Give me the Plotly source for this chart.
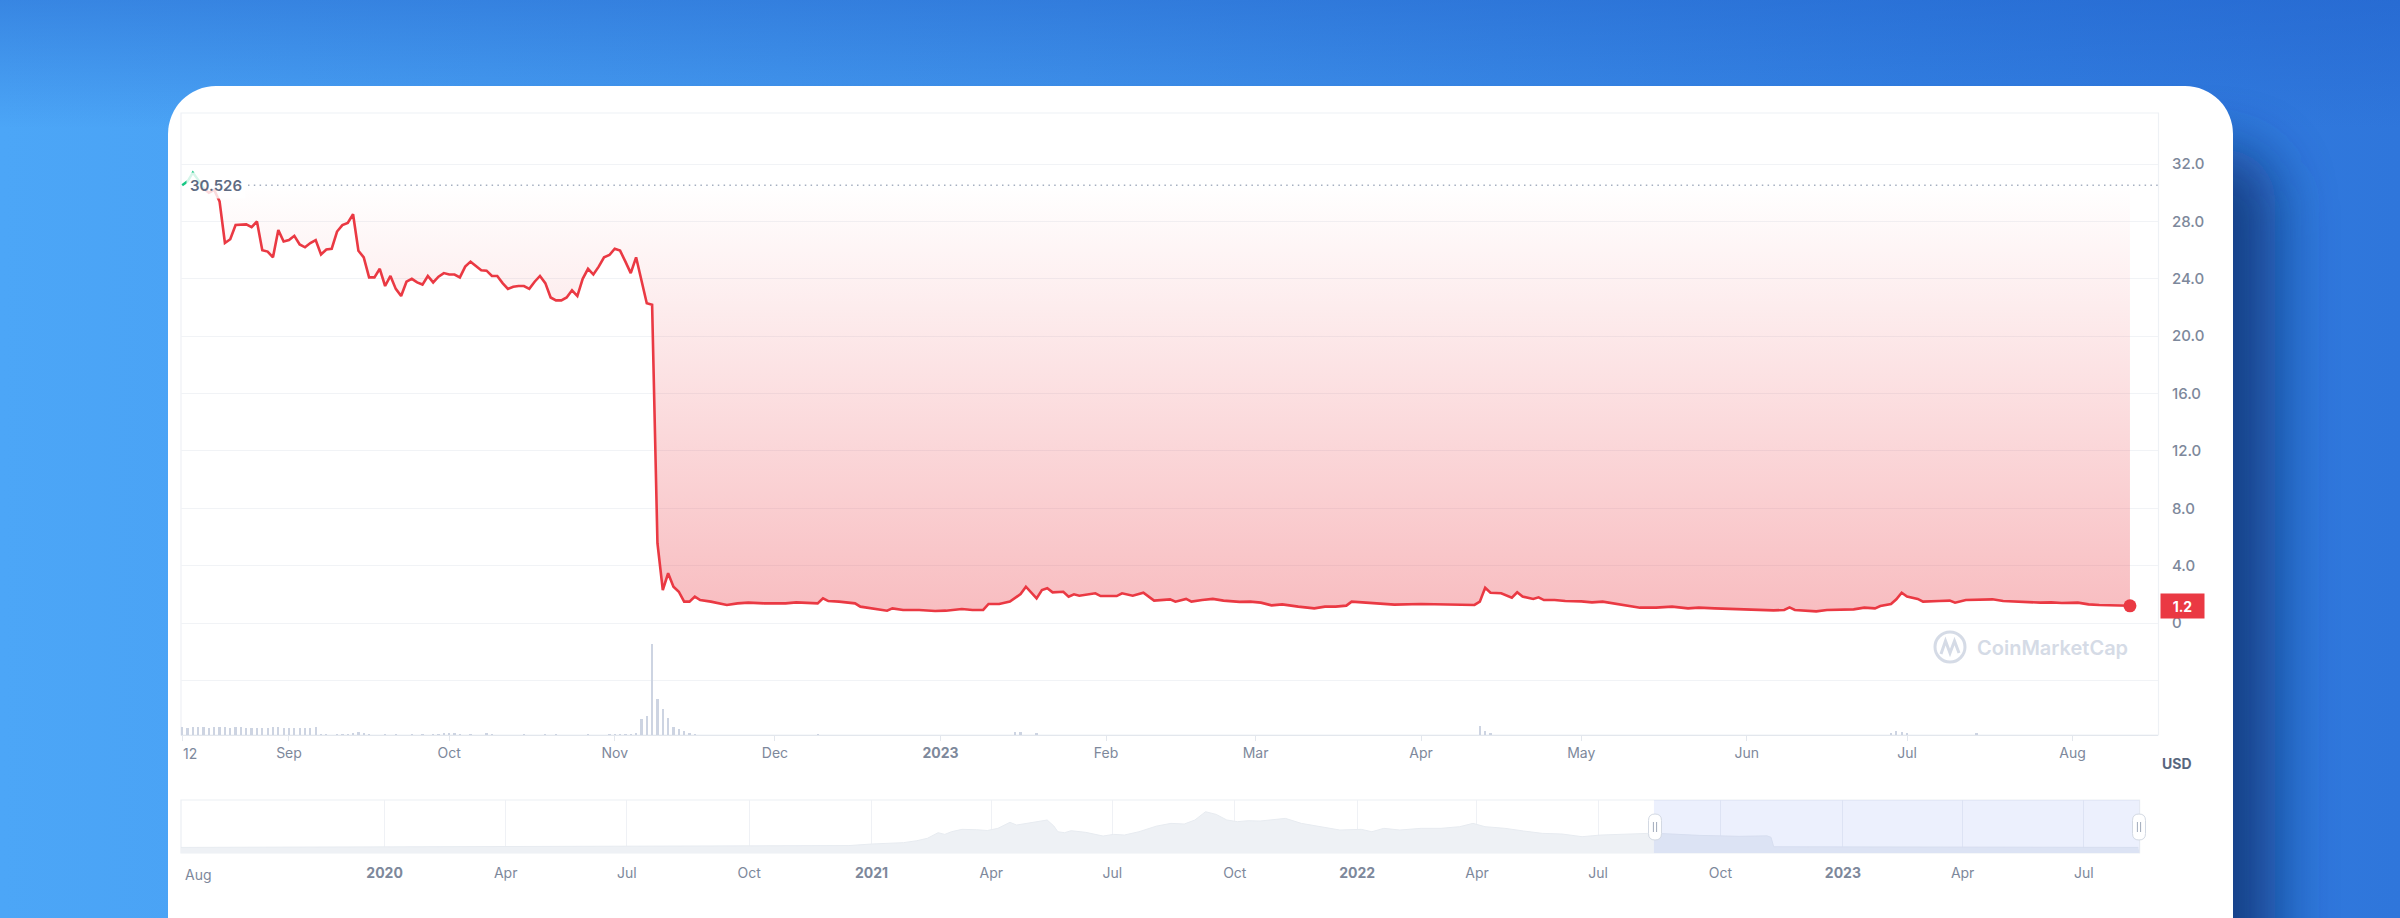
import base64
import pandas as pd
import plotly.graph_objects as go

W, H = 2400, 918

# ---------------- data ----------------
# daily closes, 2022-08-12 .. 2022-11-17
pre_start = "2022-08-12"
pre_values = [
    30.53, 30.8, 31.4, 30.9, 30.3, 30.0, 30.2, 29.4,
    26.5, 26.76, 27.75, 27.8, 27.8, 27.6, 28.0, 26.0, 25.9, 25.5, 27.4, 26.6,
    26.7, 27.0, 26.4, 26.2, 26.5, 26.7, 25.7, 26.05, 26.1, 27.3,
    27.75, 27.9, 28.5, 25.96, 25.5, 24.1, 24.1, 24.7, 23.5, 24.2,
    23.3, 22.8, 23.8, 24.0, 23.75, 23.6, 24.2, 23.75, 24.15, 24.4,
    24.3, 24.3, 24.1, 24.85, 25.2, 24.9, 24.6, 24.57, 24.2, 24.2,
    23.7, 23.3, 23.45, 23.5, 23.5, 23.3, 23.8, 24.2, 23.7, 22.7,
    22.5, 22.5, 22.7, 23.2, 22.8, 24.0, 24.7, 24.3, 24.85, 25.5,
    25.66, 26.1, 25.97, 25.2, 24.4, 25.5, 23.9, 22.3, 22.2, 5.56,
    2.3, 3.47, 2.53, 2.18, 1.49, 1.49, 1.84, 1.6,
]
post_dates = [
    "2022-11-19", "2022-11-22", "2022-11-24", "2022-11-26", "2022-11-29", "2022-12-03",
    "2022-12-05", "2022-12-09", "2022-12-10", "2022-12-11", "2022-12-13", "2022-12-16",
    "2022-12-17", "2022-12-20", "2022-12-22", "2022-12-23", "2022-12-25", "2022-12-28",
    "2022-12-31", "2023-01-02", "2023-01-05", "2023-01-07", "2023-01-09", "2023-01-10",
    "2023-01-12", "2023-01-14", "2023-01-16", "2023-01-17", "2023-01-19", "2023-01-20",
    "2023-01-21", "2023-01-22", "2023-01-24", "2023-01-25", "2023-01-26", "2023-01-27",
    "2023-01-29", "2023-01-30", "2023-01-31", "2023-02-03", "2023-02-04", "2023-02-06",
    "2023-02-08", "2023-02-10", "2023-02-13", "2023-02-14", "2023-02-16", "2023-02-17",
    "2023-02-19", "2023-02-21", "2023-02-23", "2023-02-26", "2023-02-28", "2023-03-02",
    "2023-03-04", "2023-03-06", "2023-03-09", "2023-03-12", "2023-03-14", "2023-03-16",
    "2023-03-18", "2023-03-19", "2023-03-21", "2023-03-24", "2023-03-27", "2023-04-01",
    "2023-04-05", "2023-04-11", "2023-04-12", "2023-04-13", "2023-04-14", "2023-04-16",
    "2023-04-18", "2023-04-19", "2023-04-20", "2023-04-22", "2023-04-23", "2023-04-24",
    "2023-04-26", "2023-04-28", "2023-05-01", "2023-05-03", "2023-05-05", "2023-05-07",
    "2023-05-09", "2023-05-12", "2023-05-15", "2023-05-18", "2023-05-21", "2023-05-23",
    "2023-05-26", "2023-05-30", "2023-06-01", "2023-06-04", "2023-06-06", "2023-06-08",
    "2023-06-09", "2023-06-10", "2023-06-12", "2023-06-14", "2023-06-16", "2023-06-19",
    "2023-06-21", "2023-06-23", "2023-06-25", "2023-06-26", "2023-06-28", "2023-06-29",
    "2023-06-30", "2023-07-01", "2023-07-03", "2023-07-04", "2023-07-05", "2023-07-07",
    "2023-07-09", "2023-07-10", "2023-07-12", "2023-07-14", "2023-07-17", "2023-07-19",
    "2023-07-21", "2023-07-23", "2023-07-26", "2023-07-28", "2023-07-30", "2023-08-02",
    "2023-08-04", "2023-08-06", "2023-08-09", "2023-08-11 18:00",
]
post_values = [
    1.49, 1.26, 1.37, 1.42, 1.37, 1.37,
    1.44, 1.37, 1.72, 1.53, 1.49, 1.37,
    1.14, 0.98, 0.86, 1.02, 0.91, 0.91,
    0.84, 0.86, 0.98, 0.91, 0.91, 1.33,
    1.33, 1.49, 2.02, 2.53, 1.72, 2.30,
    2.42, 2.14, 2.18, 1.84, 2.00, 1.90,
    2.00, 2.07, 1.88, 1.88, 2.07, 1.90,
    2.11, 1.56, 1.65, 1.49, 1.68, 1.49,
    1.60, 1.68, 1.56, 1.47, 1.49, 1.42,
    1.23, 1.30, 1.14, 1.02, 1.14, 1.14,
    1.21, 1.49, 1.44, 1.37, 1.28, 1.33,
    1.30, 1.26, 1.49, 2.46, 2.11, 2.07,
    1.77, 2.14, 1.84, 1.68, 1.79, 1.60,
    1.60, 1.53, 1.51, 1.44, 1.49, 1.37,
    1.26, 1.07, 1.07, 1.14, 1.02, 1.07,
    1.02, 0.98, 0.91, 0.93, 0.88, 0.91,
    1.09, 0.91, 0.84, 0.81, 0.91, 0.93,
    0.95, 1.07, 1.02, 1.18, 1.33, 1.65,
    2.11, 1.84, 1.68, 1.49, 1.49, 1.53,
    1.56, 1.42, 1.60, 1.60, 1.65, 1.53,
    1.49, 1.47, 1.42, 1.44, 1.40, 1.42,
    1.30, 1.26, 1.21, 1.20,
]
high_value = 30.526
last_value = 1.2

# daily volume (million USD), 2022-08-12 .. 2022-11-17
vol_pre = [
    40, 37.5, 42.5, 42.5, 42.5, 37.5, 42.5, 40, 42.5, 37.5, 42.5, 40, 35,
    37.5, 35, 37.5, 37.5, 40, 40, 37.5, 35, 35, 35, 35, 35, 40,
    2.5, 5, 0, 2.5, 5, 2.5, 10, 15, 7.5, 5, 0, 0, 2.5, 0, 5, 0, 0, 5, 0, 5,
    0, 2.5, 5, 7.5, 7.5, 7.5, 2.5, 0, 5, 0, 0, 10, 2.5, 0, 0, 0, 0, 0, 5, 0,
    0, 0, 5, 0, 5, 0, 0, 0, 0, 0, 5, 0, 0, 0, 5, 2.5, 5, 5, 5, 7.5,
    78.5, 95, 453.5, 178.5, 130, 83.5, 40, 30, 20, 10, 2.5, 0,
]
vol_post_dates = ["2022-12-09", "2023-01-15", "2023-01-16", "2023-01-19", "2023-04-12",
                  "2023-04-13", "2023-04-14", "2023-06-28", "2023-06-29", "2023-06-30",
                  "2023-07-01", "2023-07-14"]
vol_post_values = [5, 15, 15, 7.5, 45, 20, 10, 10, 20, 17.5, 10, 7.5]

# navigator (full history)
nav_dates = [
    "2019-08-01", "2019-10-01", "2020-01-01", "2020-04-01", "2020-07-01", "2020-10-01",
    "2020-12-15", "2021-01-01", "2021-01-25", "2021-02-04", "2021-02-12", "2021-02-20",
    "2021-02-25", "2021-03-02", "2021-03-10", "2021-03-21", "2021-03-29", "2021-04-06",
    "2021-04-15", "2021-04-20", "2021-04-27", "2021-05-05", "2021-05-13", "2021-05-18",
    "2021-05-21", "2021-05-26", "2021-05-31", "2021-06-11", "2021-06-24", "2021-07-02",
    "2021-07-10", "2021-07-21", "2021-08-03", "2021-08-14", "2021-08-24", "2021-09-01",
    "2021-09-09", "2021-09-17", "2021-09-25", "2021-10-03", "2021-10-11", "2021-10-20",
    "2021-11-08", "2021-11-20", "2021-12-04", "2021-12-19", "2022-01-04", "2022-01-12",
    "2022-01-21", "2022-02-02", "2022-02-18", "2022-03-05", "2022-03-19", "2022-03-29",
    "2022-04-07", "2022-04-22", "2022-05-06", "2022-05-20", "2022-06-04", "2022-06-19",
    "2022-07-03", "2022-07-18", "2022-08-06", "2022-08-12", "2022-09-15", "2022-10-15",
    "2022-11-05", "2022-11-08", "2022-11-10", "2023-01-17", "2023-04-13", "2023-08-11",
]
nav_values = [
    1.2, 1.5, 2.0, 2.5, 3.0, 4.0,
    5.0, 8.2, 11, 15, 20, 31.5,
    28, 33.5, 38.4, 37.6, 36, 40.5,
    52.8, 47.3, 50.7, 54.2, 57.6, 45.3,
    33.5, 31.5, 35.6, 32.2, 24.7, 28.1,
    26.7, 33.5, 45, 50.7, 49.4, 57.6,
    74.7, 69.2, 57.6, 54.2, 56.2, 55.5,
    61, 50.7, 43.9, 37, 38.4, 33.5,
    40.5, 37, 40.5, 40.5, 43.9, 50.7,
    43.9, 40.5, 35, 30.2, 28.8, 23.3,
    26.7, 28.1, 30.2, 30.5, 26, 24,
    25, 22, 2.5, 2.5, 2.5, 1.2,
]

main_tickvals = ["2022-08-12", "2022-09-01", "2022-10-01", "2022-11-01", "2022-12-01",
                 "2023-01-01", "2023-02-01", "2023-03-01", "2023-04-01", "2023-05-01",
                 "2023-06-01", "2023-07-01", "2023-08-01"]
main_ticktext = ["", "Sep", "Oct", "Nov", "Dec", "<b>2023</b>", "Feb", "Mar", "Apr",
                 "May", "Jun", "Jul", "Aug"]
y_tickvals = [-4, 0, 4, 8, 12, 16, 20, 24, 28, 32]
y_ticktext = ["", "0", "4.0", "8.0", "12.0", "16.0", "20.0", "24.0", "28.0", "32.0"]
nav_tickvals = ["2020-01-01", "2020-04-01", "2020-07-01", "2020-10-01", "2021-01-01",
                "2021-04-01", "2021-07-01", "2021-10-01", "2022-01-01", "2022-04-01",
                "2022-07-01", "2022-10-01", "2023-01-01", "2023-04-01", "2023-07-01"]
nav_ticktext = ["<b>2020</b>", "Apr", "Jul", "Oct", "<b>2021</b>", "Apr", "Jul", "Oct",
                "<b>2022</b>", "Apr", "Jul", "Oct", "<b>2023</b>", "Apr", "Jul"]

# ---------------- helpers ----------------
def px(x):
    return x / W


def py(y):
    return 1 - y / H


pre_dates = [d.strftime("%Y-%m-%d") for d in pd.date_range(pre_start, periods=len(pre_values))]
price_dates = pre_dates + post_dates
price_values = pre_values + post_values
vol_dates = [d.strftime("%Y-%m-%d") for d in pd.date_range(pre_start, periods=len(vol_pre))] + vol_post_dates
vol_values = vol_pre + vol_post_values

RED = "#ea3943"
GREEN = "#16c784"
FONT = "Inter"
TICK_GREY = "#7d889b"

# ---------------- background (blue page + white card) ----------------
svg = """<svg xmlns="http://www.w3.org/2000/svg" width="2400" height="918" viewBox="0 0 2400 918">
<defs>
<linearGradient id="g" x1="0" y1="0" x2="1" y2="0">
<stop offset="0" stop-color="#4ca6f7"/>
<stop offset="0.45" stop-color="#4194ec"/>
<stop offset="0.8" stop-color="#3380e2"/>
<stop offset="1" stop-color="#2f76db"/>
</linearGradient>
<linearGradient id="t" x1="0" y1="0" x2="0" y2="1">
<stop offset="0" stop-color="#1f5fc9" stop-opacity="0.45"/>
<stop offset="0.14" stop-color="#1f5fc9" stop-opacity="0"/>
</linearGradient>
<filter id="b" x="-20%" y="-20%" width="140%" height="140%"><feGaussianBlur stdDeviation="30"/></filter>
</defs>
<rect width="2400" height="918" fill="url(#g)"/>
<rect width="2400" height="918" fill="url(#t)"/>
<rect x="400" y="150" width="1875" height="950" rx="50" fill="#0a3070" opacity="0.8" filter="url(#b)"/>
<rect x="168" y="86" width="2065" height="950" rx="48" fill="#ffffff"/>
</svg>"""
bg_uri = "data:image/svg+xml;base64," + base64.b64encode(svg.encode()).decode()

fig = go.Figure()

# fill between baseline (period open) and the price line
fig.add_trace(go.Scatter(x=[price_dates[0], price_dates[-1]], y=[high_value, high_value],
                         mode="lines", line=dict(width=0), hoverinfo="skip"))
fig.add_trace(go.Scatter(
    x=price_dates, y=price_values, mode="lines", line=dict(width=0),
    fill="tonexty",
    fillgradient=dict(type="vertical", start=0, stop=high_value,
                      colorscale=[[0, "rgba(234,57,67,0.34)"], [1, "rgba(234,57,67,0.0)"]]),
    hoverinfo="skip"))
# green part (above open) and red line
fig.add_trace(go.Scatter(x=price_dates[:5], y=price_values[:5], mode="lines",
                         line=dict(color=GREEN, width=2.4)))
fig.add_trace(go.Scatter(x=price_dates[4:], y=price_values[4:], mode="lines",
                         line=dict(color=RED, width=2.6)))
fig.add_trace(go.Scatter(x=[price_dates[-1]], y=[price_values[-1]], mode="markers",
                         marker=dict(color=RED, size=13)))
# volume
fig.add_trace(go.Bar(x=vol_dates, y=vol_values, yaxis="y2", marker=dict(color="#cdd4e2", line=dict(width=0)),
                     width=0.42 * 86400000))
# navigator
fig.add_trace(go.Scatter(x=[nav_dates[0], "2023-08-12"], y=[-10.3, -10.3], xaxis="x3", yaxis="y3",
                         mode="lines", line=dict(width=0), hoverinfo="skip"))
fig.add_trace(go.Scatter(x=nav_dates, y=nav_values, xaxis="x3", yaxis="y3", mode="lines",
                         line=dict(color="#e7ebf0", width=1), fill="tonexty", fillcolor="#eef1f5"))

shapes = []
# main plot frame
shapes.append(dict(type="rect", xref="paper", yref="paper", x0=px(181), x1=px(2158.5), y0=py(735), y1=py(113),
                   line=dict(color="#eef1f5", width=1.2), layer="below"))
# dotted high line
shapes.append(dict(type="line", xref="paper", yref="y", x0=px(248), x1=px(2158), y0=high_value, y1=high_value,
                   line=dict(color="#a5afc0", width=1.3, dash="1.5px,4.3px")))
# navigator frame + selection
shapes.append(dict(type="rect", xref="paper", yref="paper", x0=px(181), x1=px(2139.6), y0=py(853), y1=py(800),
                   line=dict(color="#eceff3", width=1.2), layer="below"))
shapes.append(dict(type="rect", xref="x3", yref="paper", x0="2022-08-12", x1="2023-08-12",
                   y0=py(853), y1=py(800), fillcolor="rgba(70,110,235,0.10)", line=dict(width=0)))


def pill(cx, y0, y1, w=13, r=6.5):
    x0, x1 = cx - w / 2, cx + w / 2
    pts = (f"M{px(x0 + r)},{py(y0)} L{px(x1 - r)},{py(y0)} Q{px(x1)},{py(y0)} {px(x1)},{py(y0 + r)} "
           f"L{px(x1)},{py(y1 - r)} Q{px(x1)},{py(y1)} {px(x1 - r)},{py(y1)} "
           f"L{px(x0 + r)},{py(y1)} Q{px(x0)},{py(y1)} {px(x0)},{py(y1 - r)} "
           f"L{px(x0)},{py(y0 + r)} Q{px(x0)},{py(y0)} {px(x0 + r)},{py(y0)} Z")
    return pts


for cx in (1655, 2139):
    shapes.append(dict(type="path", xref="paper", yref="paper", path=pill(cx, 814, 840),
                       fillcolor="#ffffff", line=dict(color="#d3d9e3", width=1)))
    for dx in (-1.6, 1.6):
        shapes.append(dict(type="line", xref="paper", yref="paper", x0=px(cx + dx), x1=px(cx + dx),
                           y0=py(822), y1=py(832), line=dict(color="#a0aabb", width=1)))

# watermark logo
shapes.append(dict(type="circle", xref="paper", yref="paper", x0=px(1935), x1=px(1965), y0=py(662), y1=py(632),
                   line=dict(color="#d5dbe6", width=3)))
shapes.append(dict(type="path", xref="paper", yref="paper",
                   path=f"M{px(1941)},{py(654)} L{px(1945.5)},{py(641)} L{px(1950)},{py(653)} L{px(1954.5)},{py(641)} L{px(1959)},{py(653)}",
                   line=dict(color="#d5dbe6", width=3)))

annotations = [
    dict(xref="paper", yref="y", x=px(186), y=high_value, xanchor="left", yanchor="middle",
         text="30.526", showarrow=False, bgcolor="rgba(255,255,255,0.82)", borderpad=3,
         font=dict(family=FONT, size=15, color="#5e6b82", weight=600)),
    dict(xref="paper", yref="y", x=px(2160), y=last_value, xanchor="left", yanchor="middle",
         text="<b>1.2</b>", showarrow=False, bgcolor=RED, width=39, height=20, borderpad=2,
         font=dict(family=FONT, size=14, color="#ffffff")),
    dict(xref="paper", yref="paper", x=px(2177), y=py(763), xanchor="center", yanchor="middle",
         text="<b>USD</b>", showarrow=False, font=dict(family=FONT, size=14, color="#58667e")),
    dict(xref="paper", yref="paper", x=px(181), y=py(753), xanchor="left", yanchor="middle",
         text="12", showarrow=False, font=dict(family=FONT, size=14, color=TICK_GREY)),
    dict(xref="paper", yref="paper", x=px(183), y=py(874), xanchor="left", yanchor="middle",
         text="Aug", showarrow=False, font=dict(family=FONT, size=14, color=TICK_GREY)),
    dict(xref="paper", yref="paper", x=px(1975), y=py(648), xanchor="left", yanchor="middle",
         text="CoinMarketCap", showarrow=False, font=dict(family=FONT, size=20, color="#d5dbe6", weight=600)),
]

fig.update_layout(
    width=W, height=H, margin=dict(l=0, r=0, t=0, b=0),
    paper_bgcolor="#3a86e6", plot_bgcolor="rgba(0,0,0,0)",
    showlegend=False, hovermode=False, bargap=0,
    images=[dict(source=bg_uri, xref="paper", yref="paper", x=0, y=1, sizex=1, sizey=1,
                 xanchor="left", yanchor="top", sizing="stretch", layer="below")],
    xaxis=dict(domain=[px(181), px(2158)], range=["2022-08-11 18:40", "2023-08-17 00:00"], type="date",
               tickvals=main_tickvals, ticktext=main_ticktext, ticks="outside", ticklen=5,
               tickcolor="#e3e7ed", showgrid=False, zeroline=False, showline=True, linecolor="#e3e7ed",
               tickfont=dict(family=FONT, size=14, color=TICK_GREY), anchor="y", fixedrange=True),
    yaxis=dict(domain=[py(735), py(113)], range=[-7.81, 35.565], side="right",
               tickvals=y_tickvals, ticktext=y_ticktext, showgrid=True, gridcolor="#f1f3f6",
               gridwidth=1, zeroline=False, showline=False, ticks="", ticklabelstandoff=13,
               tickfont=dict(family=FONT, size=15, color=TICK_GREY, weight=500), anchor="x"),
    yaxis2=dict(overlaying="y", range=[0, 3110], visible=False, anchor="x"),
    xaxis3=dict(domain=[px(181), px(2139.6)], range=["2019-08-01", "2023-08-12"], type="date",
                anchor="y3", tickvals=nav_tickvals, ticktext=nav_ticktext, showgrid=True,
                gridcolor="#eff1f5", ticks="", zeroline=False, showline=False, ticklabelstandoff=10,
                tickfont=dict(family=FONT, size=14, color=TICK_GREY)),
    yaxis3=dict(domain=[py(853), py(800)], range=[-10.3, 98.8], visible=False, anchor="x3"),
    shapes=shapes, annotations=annotations,
)

fig.write_html("out.html", config={"displayModeBar": False},
               post_script="document.body.style.margin='0';document.body.style.padding='0';"
                           "document.body.style.overflow='hidden';")
